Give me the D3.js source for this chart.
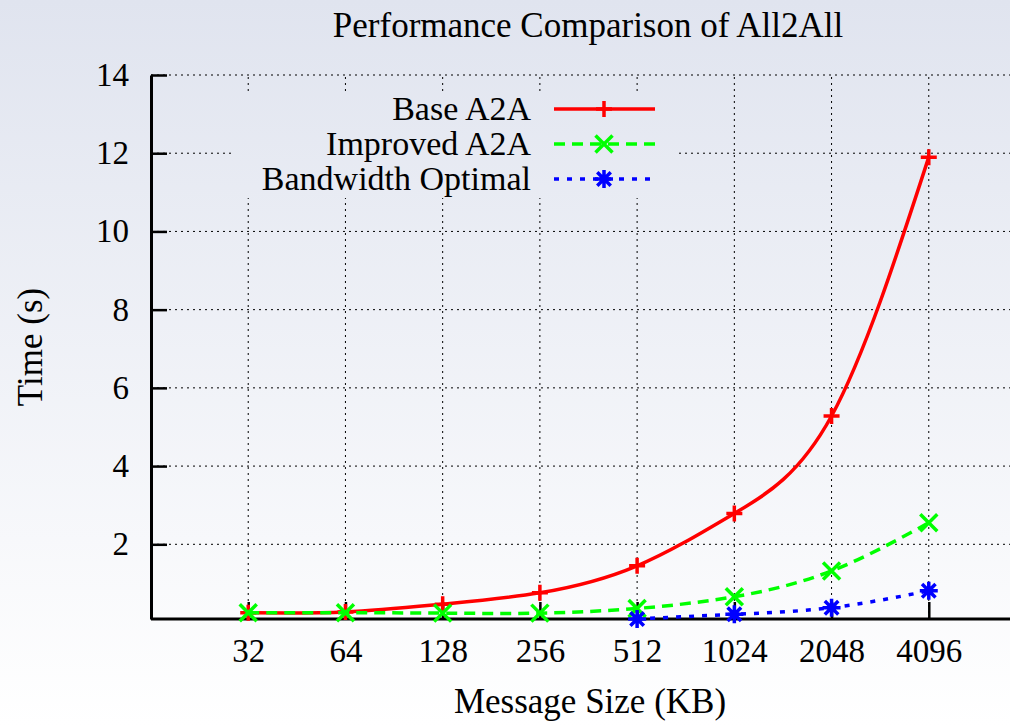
<!DOCTYPE html>
<html>
<head>
<meta charset="utf-8">
<script src="https://cdn.jsdelivr.net/npm/d3@7"></script>
<style>
  body { margin: 0; background: #fff; }
  svg text { font-family: "Liberation Serif", "Times New Roman", serif !important; fill: #000; }
</style>
</head>
<body>
<div id="chart"></div>
<script>
// message sizes (KB) shown on the x axis
const sizes = ['32', '64', '128', '256', '512', '1024', '2048', '4096'];

// time in seconds
const baseA2A = [0.25, 0.27, 0.47, 0.76, 1.45, 2.79, 5.28, 11.9];
const improvedA2A = [0.25, 0.25, 0.24, 0.24, 0.36, 0.66, 1.32, 2.55];
const bandwidthOptimal = [null, null, null, null, 0.09, 0.21, 0.38, 0.81];

const yTicks = [2, 4, 6, 8, 10, 12, 14];

const width = 1010;
const height = 726;
const serif = '"Liberation Serif", "Times New Roman", serif';

const svg = d3.select('#chart').append('svg')
    .attr('width', width)
    .attr('height', height);

// soft background gradient like the original plot
const defs = svg.append('defs');
const grad = defs.append('linearGradient')
    .attr('id', 'bg')
    .attr('gradientUnits', 'userSpaceOnUse')
    .attr('x1', 0).attr('y1', 0).attr('x2', 0).attr('y2', height);
grad.append('stop').attr('offset', '0%').attr('stop-color', '#e0e4ef');
grad.append('stop').attr('offset', '100%').attr('stop-color', '#ffffff');

svg.append('rect')
    .attr('width', width).attr('height', height)
    .attr('fill', 'url(#bg)');

const x = d3.scaleLinear().domain([-1, 8]).range([151, 1026]);
const y = d3.scaleLinear().domain([0.09, 14]).range([619, 75]);

// grid
const grid = svg.append('g')
    .attr('stroke', '#000')
    .attr('stroke-width', 1)
    .attr('stroke-dasharray', '2,4');

grid.selectAll('line.v')
    .data(sizes)
    .enter()
    .append('line')
    .attr('x1', (d, i) => x(i)).attr('x2', (d, i) => x(i))
    .attr('y1', y(0.09)).attr('y2', y(14));

grid.selectAll('line.h')
    .data(yTicks)
    .enter()
    .append('line')
    .attr('x1', x(-1)).attr('x2', width)
    .attr('y1', (d) => y(d)).attr('y2', (d) => y(d));

// legend box hides the grid behind it
svg.append('rect')
    .attr('x', 232).attr('y', 92)
    .attr('width', 444).attr('height', 106)
    .attr('fill', 'url(#bg)');

// axes
const xAxis = d3.axisBottom(x)
    .tickValues(d3.range(sizes.length))
    .tickFormat((i) => sizes[i])
    .tickSizeInner(-17)
    .tickSizeOuter(0)
    .tickPadding(20);

const yAxis = d3.axisLeft(y)
    .tickValues(yTicks)
    .tickSizeInner(-16)
    .tickSizeOuter(0)
    .tickPadding(22);

const gx = svg.append('g')
    .attr('transform', `translate(0, ${y(0.09)})`)
    .call(xAxis);
gx.select('.domain').attr('d', `M${x(-1)},0H${width}`);

const gy = svg.append('g')
    .attr('transform', `translate(${x(-1)}, 0)`)
    .call(yAxis);

[gx, gy].forEach((g) => {
    g.attr('font-family', null).attr('font-size', null);
    g.select('.domain').attr('stroke', '#000').attr('stroke-width', 3);
    g.selectAll('.tick line').attr('stroke', '#000').attr('stroke-width', 2.5);
    g.selectAll('.tick text')
        .style('font-family', serif)
        .style('font-size', '33px');
});
gx.selectAll('.tick text').attr('dy', '0.71em');

// titles
svg.append('text')
    .attr('x', 588).attr('y', 37)
    .attr('text-anchor', 'middle')
    .style('font-family', serif)
    .style('font-size', '35px')
    .text('Performance Comparison of All2All');

svg.append('text')
    .attr('x', 590).attr('y', 713)
    .attr('text-anchor', 'middle')
    .style('font-family', serif)
    .style('font-size', '35px')
    .text('Message Size (KB)');

svg.append('text')
    .attr('transform', 'translate(42, 347) rotate(-90)')
    .attr('text-anchor', 'middle')
    .style('font-family', serif)
    .style('font-size', '35px')
    .text('Time (s)');

// marker shapes
function markerPath(type, s) {
    if (type === 'plus') return `M${-s},0H${s}M0,${-s}V${s}`;
    if (type === 'cross') return `M${-s},${-s}L${s},${s}M${-s},${s}L${s},${-s}`;
    return `M${-s},0H${s}M0,${-s}V${s}M${-s * 0.75},${-s * 0.75}L${s * 0.75},${s * 0.75}M${-s * 0.75},${s * 0.75}L${s * 0.75},${-s * 0.75}`;
}
const markerSize = { plus: 8, cross: 8.5, star: 9 };

const series = [
    { name: 'Base A2A', values: baseA2A, color: '#ff0000', dash: null, marker: 'plus' },
    { name: 'Improved A2A', values: improvedA2A, color: '#00ff00', dash: '11,7', marker: 'cross' },
    { name: 'Bandwidth Optimal', values: bandwidthOptimal, color: '#0000ff', dash: '5,8', marker: 'star' }
];

const line = d3.line()
    .defined((d) => d !== null)
    .x((d, i) => x(i))
    .y((d) => y(d))
    .curve(d3.curveNatural);

series.forEach((s) => {
    svg.append('path')
        .datum(s.values)
        .attr('d', line)
        .attr('fill', 'none')
        .attr('stroke', s.color)
        .attr('stroke-width', 3.5)
        .attr('stroke-dasharray', s.dash);

    svg.append('g')
        .selectAll('path')
        .data(s.values.map((v, i) => [i, v]).filter((d) => d[1] !== null))
        .enter()
        .append('path')
        .attr('transform', (d) => `translate(${x(d[0])}, ${y(d[1])})`)
        .attr('d', markerPath(s.marker, markerSize[s.marker]))
        .attr('fill', 'none')
        .attr('stroke', s.color)
        .attr('stroke-width', 3.5);
});

// legend
const legend = svg.append('g');
series.forEach((s, k) => {
    const ly = 109 + k * 35;
    legend.append('text')
        .attr('x', 531).attr('y', ly)
        .attr('dy', '0.33em')
        .attr('text-anchor', 'end')
        .style('font-family', serif)
        .style('font-size', '34px')
        .text(s.name);
    legend.append('line')
        .attr('x1', 554).attr('x2', 655)
        .attr('y1', ly).attr('y2', ly)
        .attr('stroke', s.color)
        .attr('stroke-width', 3.5)
        .attr('stroke-dasharray', s.dash);
    legend.append('path')
        .attr('transform', `translate(604, ${ly})`)
        .attr('d', markerPath(s.marker, markerSize[s.marker]))
        .attr('fill', 'none')
        .attr('stroke', s.color)
        .attr('stroke-width', 3.5);
});
</script>
</body>
</html>
